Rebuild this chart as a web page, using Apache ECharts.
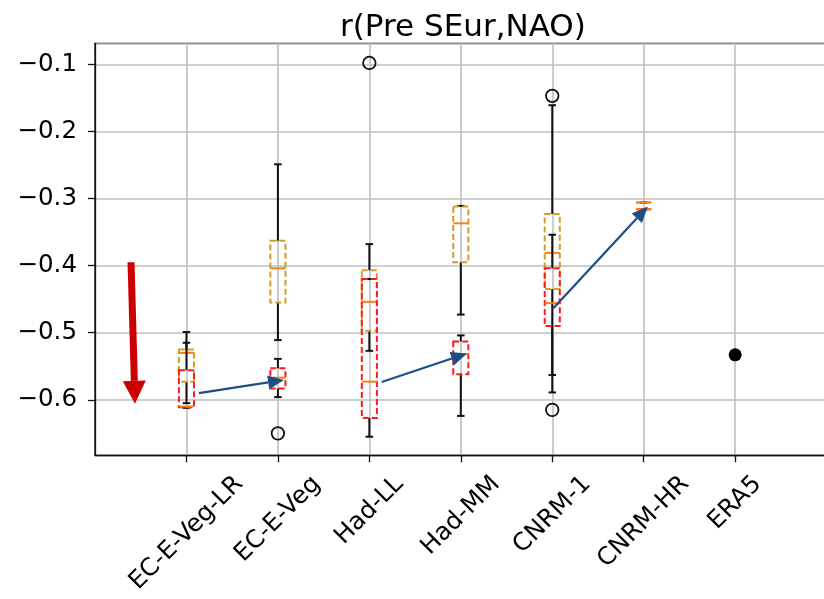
<!DOCTYPE html>
<html>
<head>
<meta charset="utf-8">
<script src="https://cdn.jsdelivr.net/npm/echarts@6/dist/echarts.min.js"></script>
<style>
  html, body { margin: 0; padding: 0; background: #fff; }
  #main { width: 824px; height: 599px; }
</style>
</head>
<body>
<div id="main"></div>
<script>
const categories = ['EC-E-Veg-LR', 'EC-E-Veg', 'Had-LL', 'Had-MM', 'CNRM-1', 'CNRM-HR', 'ERA5'];
const tickPositions = [1, 2, 3, 4, 5, 6, 7];

// [lower whisker, Q1, median, Q3, upper whisker] per category, null = no box
const goldBoxes = [
  [-0.605, -0.573, -0.530, -0.525, -0.499],
  [-0.511, -0.455, -0.404, -0.363, -0.249],
  [-0.527, -0.497, -0.454, -0.407, -0.368],
  [-0.473, -0.395, -0.337, -0.312, -0.311],
  [-0.563, -0.435, -0.381, -0.323, -0.161],
  [-0.306, -0.306, -0.306, -0.306, -0.306],
  null
];
const redBoxes = [
  [-0.612, -0.611, -0.610, -0.556, -0.515],
  [-0.596, -0.583, -0.567, -0.553, -0.539],
  [-0.655, -0.627, -0.573, -0.420, -0.420],
  [-0.624, -0.562, -0.532, -0.513, -0.504],
  [-0.589, -0.490, -0.456, -0.404, -0.354],
  [-0.316, -0.316, -0.316, -0.316, -0.316],
  null
];
// fliers: [category position, value]
const outliers = [[2, -0.650], [3, -0.098], [5, -0.147], [5, -0.615]];
const era5 = [[7, -0.533]];
// arrows: [x start, y start, x end, y end]
const blueArrows = [
  [1.137, -0.590, 2.067, -0.5705],
  [3.135, -0.5735, 4.068, -0.531],
  [5.012, -0.4636, 6.044, -0.312]
];
const redArrow = [[0.394, -0.395, 0.437, -0.606]];

const FONT = 'DejaVu Sans';
const LABEL_SIZE = 24.5;

// matplotlib centres rotated tick labels on the tick; shift each label by its width
const ctx = document.createElement('canvas').getContext('2d');
ctx.font = LABEL_SIZE + 'px "' + FONT + '"';
const rich = {};
categories.forEach((c, i) => {
  const w = ctx.measureText(c).width;
  rich['l' + i] = {
    fontFamily: FONT, fontSize: LABEL_SIZE, color: '#000', lineHeight: 28.5,
    padding: [w / 2, w / 2, 0, 0]
  };
});

function boxSeries(boxes, color) {
  return {
    type: 'custom',
    data: boxes.map((b, i) => b ? [i + 1].concat(b) : null).filter(Boolean),
    encode: { x: 0, y: [1, 2, 3, 4, 5] },
    renderItem: function (params, api) {
      const x = api.value(0);
      const pt = k => api.coord([x, api.value(k)]);
      const lo = pt(1)[1], q1 = pt(2)[1], md = pt(3)[1], q3 = pt(4)[1], hi = pt(5)[1];
      const cx = pt(1)[0];
      const bw = api.size([0.165, 0])[0];
      const cw = bw / 2;
      const black = { stroke: '#111', lineWidth: 2 };
      return {
        type: 'group',
        children: [
          { type: 'line', shape: { x1: cx, y1: q1, x2: cx, y2: lo }, style: black },
          { type: 'line', shape: { x1: cx, y1: q3, x2: cx, y2: hi }, style: black },
          { type: 'line', shape: { x1: cx - cw / 2, y1: lo, x2: cx + cw / 2, y2: lo }, style: black },
          { type: 'line', shape: { x1: cx - cw / 2, y1: hi, x2: cx + cw / 2, y2: hi }, style: black },
          { type: 'rect', shape: { x: cx - bw / 2, y: q3, width: bw, height: q1 - q3 },
            style: { fill: 'none', stroke: color, lineWidth: 2, lineDash: [6, 3] } },
          { type: 'line', shape: { x1: cx - bw / 2, y1: md, x2: cx + bw / 2, y2: md },
            style: { stroke: '#ff7f0e', lineWidth: 2 } }
        ]
      };
    }
  };
}

function arrowSeries(arrows, color, width, headLen, headW) {
  return {
    type: 'custom',
    data: arrows,
    encode: { x: [0, 2], y: [1, 3] },
    z: 5,
    renderItem: function (params, api) {
      const a = api.coord([api.value(0), api.value(1)]);
      const b = api.coord([api.value(2), api.value(3)]);
      const dx = b[0] - a[0], dy = b[1] - a[1];
      const len = Math.sqrt(dx * dx + dy * dy);
      const ux = dx / len, uy = dy / len;
      const bx = b[0] - ux * headLen, by = b[1] - uy * headLen;
      const nx = -uy * headW / 2, ny = ux * headW / 2;
      return {
        type: 'group',
        children: [
          { type: 'line', shape: { x1: a[0], y1: a[1], x2: bx, y2: by },
            style: { stroke: color, lineWidth: width } },
          { type: 'polygon', shape: { points: [[b[0], b[1]], [bx + nx, by + ny], [bx - nx, by - ny]] },
            style: { fill: color } }
        ]
      };
    }
  };
}

const chart = echarts.init(document.getElementById('main'));
chart.setOption({
  animation: false,
  backgroundColor: '#fff',
  title: {
    text: 'r(Pre SEur,NAO)',
    left: 335, top: 7,
    textStyle: { fontFamily: FONT, fontSize: 31, fontWeight: 'normal', color: '#000' }
  },
  grid: {
    left: 95, top: 43.3, width: 731.6, height: 412,
    show: true, borderColor: '#111', borderWidth: 1.3,
    containLabel: false, outerBoundsMode: 'none'
  },
  xAxis: {
    type: 'value', min: 0, max: 8, interval: 1,
    axisLine: { show: true, lineStyle: { color: '#111', width: 1.3 } },
    axisTick: { show: true, length: 7, customValues: tickPositions, lineStyle: { color: '#111', width: 1.3 } },
    axisLabel: {
      rotate: 45, align: 'center', verticalAlign: 'middle', margin: 25,
      fontFamily: FONT, fontSize: LABEL_SIZE, color: '#000',
      formatter: function (v) {
        const i = Math.round(v) - 1;
        return (i >= 0 && i < categories.length) ? '{l' + i + '|' + categories[i] + '}' : '';
      },
      rich: rich
    },
    splitLine: { show: true, lineStyle: { color: '#bfbfbf', width: 1.6 } }
  },
  yAxis: {
    type: 'value', min: -0.6827, max: -0.0687, splitNumber: 6,
    axisLine: { show: true, lineStyle: { color: '#111', width: 1.3 } },
    axisTick: { show: true, length: 7, lineStyle: { color: '#111', width: 1.3 } },
    axisLabel: {
      margin: 18, fontFamily: FONT, fontSize: 24.5, color: '#000',
      showMinLabel: false, showMaxLabel: false,
      formatter: function (v) {
        if (Math.abs(v * 10 - Math.round(v * 10)) > 1e-6) return '';
        return (v < 0 ? '\u2212' : '') + Math.abs(v).toFixed(1);
      }
    },
    splitLine: { show: true, lineStyle: { color: '#bfbfbf', width: 1.6 } }
  },
  series: [
    boxSeries(goldBoxes, '#d09f2a'),
    boxSeries(redBoxes, '#ff1a1a'),
    {
      type: 'scatter', data: outliers, symbol: 'circle', symbolSize: 12.5,
      itemStyle: { color: 'rgba(0,0,0,0)', borderColor: '#111', borderWidth: 1.8, opacity: 1 }
    },
    {
      type: 'scatter', data: era5, symbol: 'circle', symbolSize: 13,
      itemStyle: { color: '#000', opacity: 1 }
    },
    arrowSeries(blueArrows, '#1f4e85', 2.2, 16, 14),
    arrowSeries(redArrow, '#cc0000', 7, 23, 23)
  ]
});
</script>
</body>
</html>
